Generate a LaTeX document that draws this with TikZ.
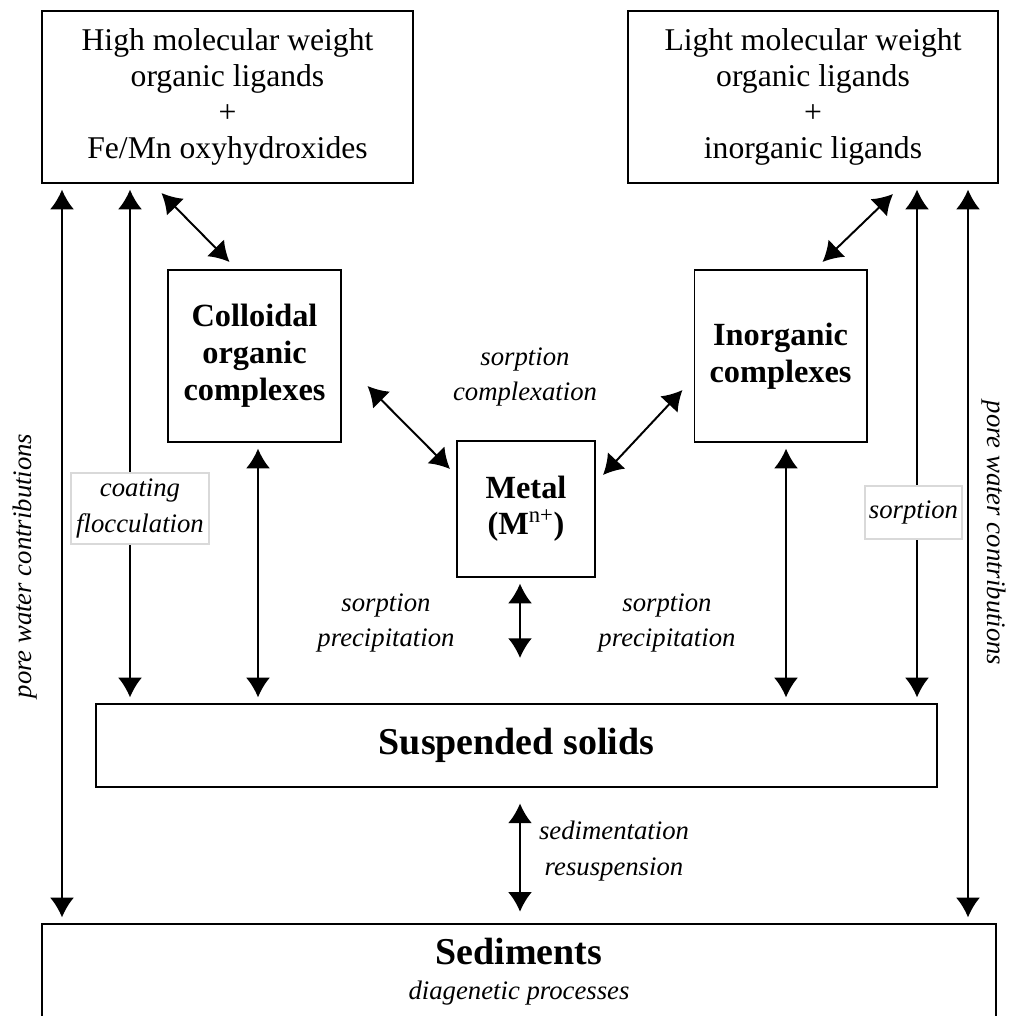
\documentclass[tikz,border=0pt]{standalone}
\usepackage{fontspec}
\setmainfont{Liberation Serif}
\usetikzlibrary{arrows.meta,calc}
\tikzset{
    ligand box/.style = {
        shape = rectangle,
        align = center,
        draw,
        minimum width=9.25cm,
        minimum height=4.3cm,
        inner sep=0pt,
        font=\fontsize{22.5pt}{25.5pt}\selectfont
    },
    complex box/.style = {
        shape = rectangle,
        align = center,
        draw,
        minimum width=4.3cm,
        minimum height=4.3cm,
        inner sep=0pt,
        font=\bfseries\fontsize{23pt}{26.3pt}\selectfont
    },
    metal box/.style = {
        shape = rectangle,
        align = center,
        draw,
        minimum width=3.45cm,
        minimum height=3.4cm,
        inner sep=0pt,
        font=\bfseries\fontsize{23pt}{25.5pt}\selectfont
    },
    solid box/.style = {
        shape = rectangle,
        align = center,
        draw,
        minimum width=#1,
        minimum height=2.075cm,
        inner sep=0pt,
        font=\bfseries\fontsize{27pt}{25pt}\selectfont
    },
    process/.style = {
        align = center,
        inner sep=0pt,
        font=\itshape\fontsize{19pt}{25.5pt}\selectfont
    },
    process tag/.style 2 args = {
        process,
        draw = gray!30,
        fill = white,
        minimum width=#1,
        minimum height=#2
    },
    link/.style = {<->, shorten <=4pt, shorten >=4pt}
}

\begin{document}
\begin{tikzpicture}[x=0.025cm, y=-0.025cm, line width=1.4pt, >={Latex[length=14pt,width=17pt]}]
      \useasboundingbox (0,0) rectangle (1016,1016);

      % boxes
      \node (hmw) at (227.5,97) [ligand box] {High molecular weight\\organic ligands\\+\\Fe/Mn oxyhydroxides};
      \node (lmw) at (813,97) [ligand box] {Light molecular weight\\organic ligands\\+\\inorganic ligands};
      \node (col) at (254.5,356) [complex box] {Colloidal\\organic\\complexes};
      \node (inor) at (780.5,356) [complex box] {Inorganic\\complexes};
      \node (metal) at (526,509) [metal box] {Metal\\(M\textsuperscript{\mdseries n+})};
      \node (ss) at (516.5,745.5) [solid box=21.025cm] {Suspended solids};
      \node (sed) at (519,972) [solid box=23.85cm, minimum height=2.4cm] {Sediments\\{\mdseries\itshape\fontsize{19pt}{25pt}\selectfont diagenetic processes}};

      % arrow columns
      \coordinate (pwl) at (62,0);
      \coordinate (coat) at (130,0);
      \coordinate (colx) at (258,0);
      \coordinate (mid) at (520,0);
      \coordinate (inx) at (786,0);
      \coordinate (sorp) at (917,0);
      \coordinate (pwr) at (968,0);
      \coordinate (mend) at (520,658);

      \draw[link] (hmw.south -| pwl) -- (sed.north -| pwl);
      \draw[link] (hmw.south -| coat) -- (ss.north -| coat);
      \draw[link] (col.south -| colx) -- (ss.north -| colx);
      \draw[link] (inor.south -| inx) -- (ss.north -| inx);
      \draw[link] (lmw.south -| sorp) -- (ss.north -| sorp);
      \draw[link] (lmw.south -| pwr) -- (sed.north -| pwr);
      \draw[<->, shorten <=4pt] (metal.south -| mid) -- (mend);
      \draw[<->, shorten <=11pt, shorten >=8pt] (ss.south -| mid) -- (sed.north -| mid);

      \draw[<->] ($(hmw.south west)+(120,9)$) -- ($(col.north west)+(62,-7)$);
      \draw[<->] ($(col.east)+(26,30)$) -- ($(metal.north west)+(-6,29)$);
      \draw[<->] ($(metal.north east)+(7,35)$) -- ($(inor.west)+(-11,34)$);
      \draw[<->] ($(inor.north)+(42,-7)$) -- ($(lmw.south east)+(-106,10)$);

      % labels
      \node (coating) at (140,508.5) [process tag={3.45cm}{1.775cm}] {coating\\flocculation};
      \node (sorption) at (913.5,512.5) [process tag={2.425cm}{1.325cm}] {sorption};
      \node (cplx) at (525,377) [process] {sorption\\complexation};
      \node (precl) at (386,623) [process] {sorption\\precipitation};
      \node (precr) at (667,623) [process] {sorption\\precipitation};
      \node (sedim) at (614,851) [process] {sedimentation\\resuspension};
      \node (pwlab) at (25,566) [process, rotate=90] {pore water contributions};
      \node (pwrab) at (994,533) [process, rotate=-90] {pore water contributions};
\end{tikzpicture}
\end{document}
